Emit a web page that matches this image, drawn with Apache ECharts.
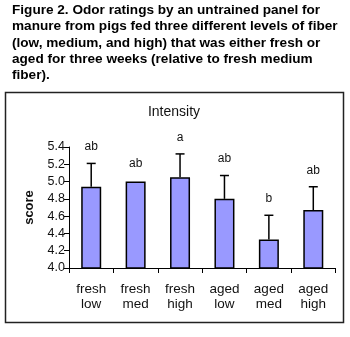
<!DOCTYPE html>
<html>
<head>
<meta charset="utf-8">
<script src="https://cdn.jsdelivr.net/npm/echarts@6/dist/echarts.min.js"></script>
<style>
html,body{margin:0;padding:0;background:#fff;}
#chart{width:350px;height:337px;}
</style>
</head>
<body>
<div id="chart"></div>
<script>
var captionLines = [
  'Figure 2. Odor ratings by an untrained panel for',
  'manure from pigs fed three different levels of fiber',
  '(low, medium, and high) that was either fresh or',
  'aged for three weeks (relative to fresh medium',
  'fiber).'
];
var chartTitle = 'Intensity';
var yAxisName = 'score';
var categories = ['fresh\nlow', 'fresh\nmed', 'fresh\nhigh', 'aged\nlow', 'aged\nmed', 'aged\nhigh'];
var scores = [4.94, 5.00, 5.05, 4.80, 4.33, 4.67];
var errors = [0.27, 0, 0.27, 0.27, 0.28, 0.27];
var letters = ['ab', 'ab', 'a', 'ab', 'b', 'ab'];

var chart = echarts.init(document.getElementById('chart'), null, {renderer: 'canvas'});

var graphics = [];
captionLines.forEach(function (line, i) {
  graphics.push({
    type: 'text',
    left: 12,
    top: 3 + i * 16.4,
    style: {
      text: line,
      font: 'bold 13.6px "Liberation Sans", Arial, sans-serif',
      fill: '#000'
    }
  });
});
graphics.push({
  type: 'rect',
  shape: {x: 5.5, y: 92.5, width: 338, height: 230},
  style: {fill: 'none', stroke: '#222', lineWidth: 1.5},
  z: 10
});
graphics.push({
  type: 'text',
  x: 174,
  y: 112.5,
  style: {
    text: chartTitle,
    font: '14px "Liberation Sans", Arial, sans-serif',
    fill: '#111',
    align: 'center',
    verticalAlign: 'middle'
  }
});

var errData = scores.map(function (v, i) { return [i, v, errors[i], letters[i]]; });

chart.setOption({
  animation: false,
  grid: {left: 69, right: 14.5, top: 147, height: 121},
  graphic: graphics,
  xAxis: {
    type: 'category',
    data: categories,
    axisLine: {lineStyle: {color: '#000', width: 1}},
    axisTick: {show: true, length: 5, lineStyle: {color: '#000'}},
    axisLabel: {
      color: '#111',
      fontFamily: '"Liberation Sans", Arial, sans-serif',
      fontSize: 13.5,
      lineHeight: 15.6,
      margin: 13,
      interval: 0
    }
  },
  yAxis: {
    type: 'value',
    min: 4.0,
    max: 5.4,
    interval: 0.2,
    name: yAxisName,
    nameLocation: 'middle',
    nameGap: 33,
    nameRotate: 90,
    nameTextStyle: {
      color: '#111',
      fontWeight: 'bold',
      fontSize: 13,
      fontFamily: '"Liberation Sans", Arial, sans-serif'
    },
    splitLine: {show: false},
    axisLine: {show: true, lineStyle: {color: '#000', width: 1}},
    axisTick: {show: true, inside: false, length: 5, lineStyle: {color: '#000'}},
    axisLabel: {
      color: '#111',
      fontFamily: '"Liberation Sans", Arial, sans-serif',
      fontSize: 12.5,
      margin: 4,
      formatter: function (v) { return v.toFixed(1); }
    }
  },
  series: [
    {
      type: 'bar',
      data: scores,
      barWidth: 20,
      clip: true,
      itemStyle: {color: '#9999FF', borderColor: '#000', borderWidth: 1.5}
    },
    {
      type: 'custom',
      data: errData,
      z: 5,
      renderItem: function (params, api) {
        var i = api.value(0);
        var v = api.value(1);
        var e = api.value(2);
        var lab = api.value(3);
        var base = api.coord([i, v]);
        var top = api.coord([i, v + e]);
        var children = [];
        if (e > 0) {
          children.push({
            type: 'line',
            shape: {x1: base[0], y1: base[1], x2: top[0], y2: top[1]},
            style: {stroke: '#000', lineWidth: 1.5}
          });
          children.push({
            type: 'line',
            shape: {x1: top[0] - 4.5, y1: top[1], x2: top[0] + 4.5, y2: top[1]},
            style: {stroke: '#000', lineWidth: 1.5}
          });
        }
        children.push({
          type: 'text',
          x: top[0],
          y: top[1] - (e > 0 ? 16.5 : 18),
          style: {
            text: lab,
            font: '12px "Liberation Sans", Arial, sans-serif',
            fill: '#111',
            align: 'center',
            verticalAlign: 'middle'
          }
        });
        return {type: 'group', children: children};
      }
    }
  ]
});
</script>
</body>
</html>
